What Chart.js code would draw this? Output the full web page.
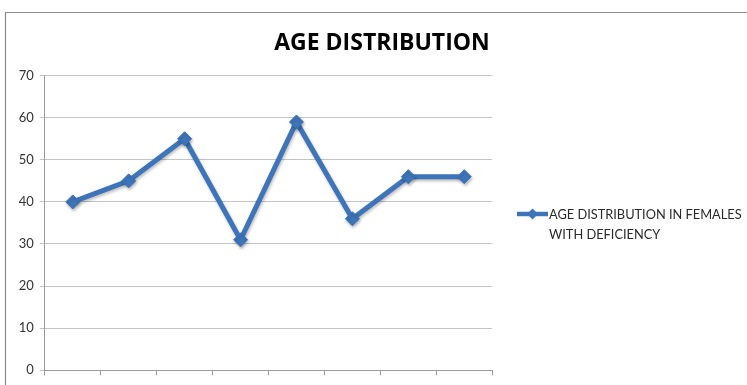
<!DOCTYPE html>
<html>
<head>
<meta charset="utf-8">
<script src="https://cdn.jsdelivr.net/npm/chart.js@4/dist/chart.umd.min.js"></script>
<style>
  html, body { margin: 0; padding: 0; background: #fff; }
  #wrap { position: relative; width: 747px; height: 385px; }
</style>
</head>
<body>
<div id="wrap"><canvas id="c" width="747" height="385"></canvas></div>
<script>
// Chart content
const chartTitle = 'AGE DISTRIBUTION';
const seriesName = ['AGE DISTRIBUTION IN FEMALES', 'WITH DEFICIENCY'];
const categories = ['1', '2', '3', '4', '5', '6', '7', '8'];
const femaleAges = [40, 45, 55, 31, 59, 36, 46, 46];
const yTicks = [0, 10, 20, 30, 40, 50, 60, 70];

const lineBlue = '#3d74ba';
const labelFont = 'Lato, "Open Sans", "DejaVu Sans", sans-serif';

// Frame around the chart, title text and the side legend
const decorations = {
  id: 'decorations',
  beforeDraw(chart) {
    const ctx = chart.ctx;
    ctx.save();
    ctx.fillStyle = '#fff';
    ctx.fillRect(0, 0, chart.width, chart.height);
    ctx.strokeStyle = '#8c8c8c';
    ctx.lineWidth = 1.2;
    ctx.beginPath();
    ctx.moveTo(5.5, chart.height + 2);
    ctx.lineTo(5.5, 12.5);
    ctx.lineTo(chart.width + 2, 12.5);
    ctx.stroke();
    ctx.restore();
  },
  afterDraw(chart) {
    const ctx = chart.ctx;
    ctx.save();
    // title
    ctx.fillStyle = '#000';
    ctx.font = 'bold 23px "Open Sans", "DejaVu Sans", sans-serif';
    ctx.textAlign = 'center';
    ctx.textBaseline = 'alphabetic';
    ctx.fillText(chartTitle, 382, 49.5);

    // legend entry, styled from the dataset
    const ds = chart.data.datasets[0];
    const ly = 214;
    ctx.strokeStyle = ds.borderColor;
    ctx.lineWidth = 4.5;
    ctx.beginPath();
    ctx.moveTo(517, ly);
    ctx.lineTo(548, ly);
    ctx.stroke();
    ctx.fillStyle = ds.pointBackgroundColor;
    ctx.beginPath();
    ctx.moveTo(532.5, ly - 5.5);
    ctx.lineTo(538, ly);
    ctx.lineTo(532.5, ly + 5.5);
    ctx.lineTo(527, ly);
    ctx.closePath();
    ctx.fill();

    ctx.fillStyle = '#2a2a2a';
    ctx.font = '12.8px ' + labelFont;
    ctx.textAlign = 'left';
    ctx.textBaseline = 'middle';
    seriesName.forEach((t, i) => ctx.fillText(t, 549, ly + 1 + i * 20));
    ctx.restore();
  },
  beforeDatasetDraw(chart) {
    const ctx = chart.ctx;
    ctx.save();
    ctx.shadowColor = 'rgba(0,0,0,0.25)';
    ctx.shadowBlur = 3;
    ctx.shadowOffsetX = 1;
    ctx.shadowOffsetY = 2;
  },
  afterDatasetDraw(chart) {
    chart.ctx.restore();
  }
};

new Chart(document.getElementById('c'), {
  type: 'line',
  data: {
    labels: categories,
    datasets: [{
      label: seriesName.join(' '),
      data: femaleAges,
      borderColor: lineBlue,
      backgroundColor: lineBlue,
      pointBackgroundColor: lineBlue,
      pointBorderColor: lineBlue,
      borderWidth: 5,
      pointStyle: 'rectRot',
      pointRadius: 7,
      pointBorderWidth: 1,
      tension: 0
    }]
  },
  options: {
    responsive: false,
    animation: false,
    events: [],
    layout: { padding: { left: 0, top: 75.6, right: 254.8, bottom: 0 } },
    plugins: {
      legend: { display: false },
      title: { display: false },
      tooltip: { enabled: false }
    },
    scales: {
      x: {
        type: 'category',
        offset: true,
        afterFit(scale) { scale.height = 14.7; },
        grid: {
          offset: true,
          drawOnChartArea: false,
          drawTicks: true,
          tickLength: 5,
          color: '#9a9a9a'
        },
        border: { display: true, color: '#9a9a9a', width: 1 },
        ticks: { display: false }
      },
      y: {
        min: 0,
        max: 70,
        afterFit(scale) { scale.width = 44.8; },
        afterBuildTicks(scale) { scale.ticks = yTicks.map(v => ({ value: v })); },
        grid: {
          color: '#c4c4c4',
          drawTicks: true,
          tickLength: 5,
          lineWidth: 1
        },
        border: { display: true, color: '#9a9a9a', width: 1 },
        ticks: {
          color: '#333',
          padding: 6,
          font: { family: labelFont, size: 13 }
        }
      }
    }
  },
  plugins: [decorations]
});
</script>
</body>
</html>
